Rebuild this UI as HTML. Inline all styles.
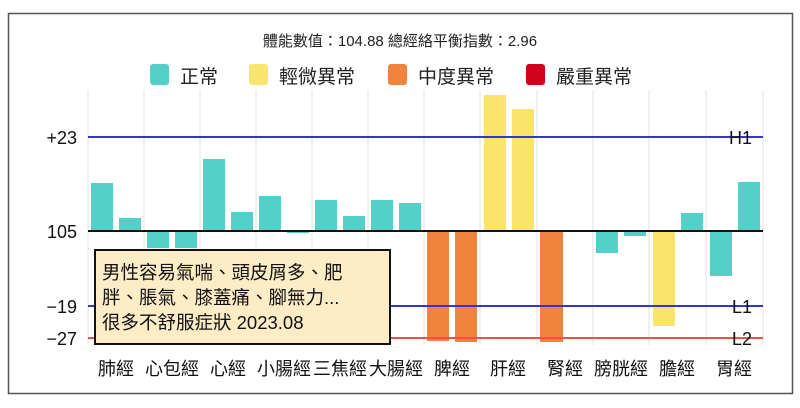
<!DOCTYPE html><html><head><meta charset="utf-8"><style>
body{margin:0;background:#fff;width:800px;height:403px;overflow:hidden;font-family:"Liberation Sans","Noto Sans CJK TC",sans-serif}
</style></head><body>
<svg width="800" height="403" xmlns="http://www.w3.org/2000/svg" font-family="Liberation Sans, Noto Sans CJK TC, sans-serif">
<rect x="8.5" y="13.5" width="784" height="380" fill="#fff" stroke="#555" stroke-width="1.5"/>
<text x="400" y="46" font-size="15" text-anchor="middle" fill="#222">體能數值：104.88 總經絡平衡指數：2.96</text>
<g font-size="19" fill="#222">
<rect x="150" y="64" width="19" height="21" rx="3" fill="#55d0c8"/><text x="180" y="83">正常</text>
<rect x="249" y="64" width="19" height="21" rx="3" fill="#fbe46e"/><text x="279" y="83">輕微異常</text>
<rect x="388" y="64" width="19" height="21" rx="3" fill="#f1843c"/><text x="418" y="83">中度異常</text>
<rect x="526" y="64" width="19" height="21" rx="3" fill="#d0021b"/><text x="556" y="83">嚴重異常</text>
</g>
<g stroke="#e2e2e2" stroke-width="1">
<line x1="88" y1="90" x2="88" y2="345"/><line x1="144" y1="90" x2="144" y2="345"/><line x1="200" y1="90" x2="200" y2="345"/><line x1="256" y1="90" x2="256" y2="345"/><line x1="312" y1="90" x2="312" y2="345"/><line x1="368" y1="90" x2="368" y2="345"/><line x1="424" y1="90" x2="424" y2="345"/><line x1="480" y1="90" x2="480" y2="345"/><line x1="537" y1="90" x2="537" y2="345"/><line x1="593" y1="90" x2="593" y2="345"/><line x1="649" y1="90" x2="649" y2="345"/><line x1="706" y1="90" x2="706" y2="345"/><line x1="763" y1="90" x2="763" y2="345"/>
</g>
<g>
<rect x="91" y="183" width="22" height="48" fill="#55d0c8"/><rect x="119" y="218" width="22" height="13" fill="#55d0c8"/>
<rect x="147" y="231" width="22" height="17" fill="#55d0c8"/><rect x="175" y="231" width="22" height="17" fill="#55d0c8"/>
<rect x="203" y="159" width="22" height="72" fill="#55d0c8"/><rect x="231" y="212" width="22" height="19" fill="#55d0c8"/>
<rect x="259" y="196" width="22" height="35" fill="#55d0c8"/><rect x="287" y="231" width="22" height="2" fill="#55d0c8"/>
<rect x="315" y="200" width="22" height="31" fill="#55d0c8"/><rect x="343" y="216" width="22" height="15" fill="#55d0c8"/>
<rect x="371" y="200" width="22" height="31" fill="#55d0c8"/><rect x="399" y="203" width="22" height="28" fill="#55d0c8"/>
<rect x="427" y="231" width="22" height="110" fill="#f1843c"/><rect x="455" y="231" width="22" height="111" fill="#f1843c"/>
<rect x="484" y="95" width="22" height="136" fill="#fbe46e"/><rect x="512" y="109" width="22" height="122" fill="#fbe46e"/>
<rect x="540" y="231" width="23" height="111" fill="#f1843c"/>
<rect x="596" y="231" width="22" height="22" fill="#55d0c8"/><rect x="624" y="231" width="22" height="5" fill="#55d0c8"/>
<rect x="653" y="231" width="22" height="95" fill="#fbe46e"/><rect x="681" y="213" width="22" height="18" fill="#55d0c8"/>
<rect x="710" y="231" width="22" height="45" fill="#55d0c8"/><rect x="738" y="182" width="22" height="49" fill="#55d0c8"/>
</g>
<line x1="88" y1="137" x2="763" y2="137" stroke="#3434d0" stroke-width="2"/>
<line x1="88" y1="231" x2="763" y2="231" stroke="#111" stroke-width="2"/>
<line x1="88" y1="306" x2="763" y2="306" stroke="#3434d0" stroke-width="2"/>
<line x1="88" y1="338" x2="763" y2="338" stroke="#f0504a" stroke-width="2"/>
<g font-size="18" fill="#111" text-anchor="end">
<text x="77" y="144">+23</text><text x="77" y="238">105</text><text x="77" y="313">−19</text><text x="77" y="345">−27</text>
<text x="752" y="144">H1</text><text x="752" y="313">L1</text><text x="752" y="345">L2</text>
</g>
<rect x="95" y="250" width="295" height="94" fill="#fdecc6" stroke="#111" stroke-width="2"/>
<g font-size="18.5" fill="#111">
<text x="102" y="279">男性容易氣喘、頭皮屑多、肥</text>
<text x="102" y="304">胖、脹氣、膝蓋痛、腳無力...</text>
<text x="102" y="329">很多不舒服症狀 2023.08</text>
</g>
<g font-size="18" fill="#111" text-anchor="middle">
<text x="116" y="375">肺經</text><text x="172" y="375">心包經</text><text x="228" y="375">心經</text><text x="284" y="375">小腸經</text><text x="340" y="375">三焦經</text><text x="396" y="375">大腸經</text><text x="452" y="375">脾經</text><text x="508" y="375">肝經</text><text x="565" y="375">腎經</text><text x="621" y="375">膀胱經</text><text x="677" y="375">膽經</text><text x="734" y="375">胃經</text>
</g>
</svg>
</body></html>
